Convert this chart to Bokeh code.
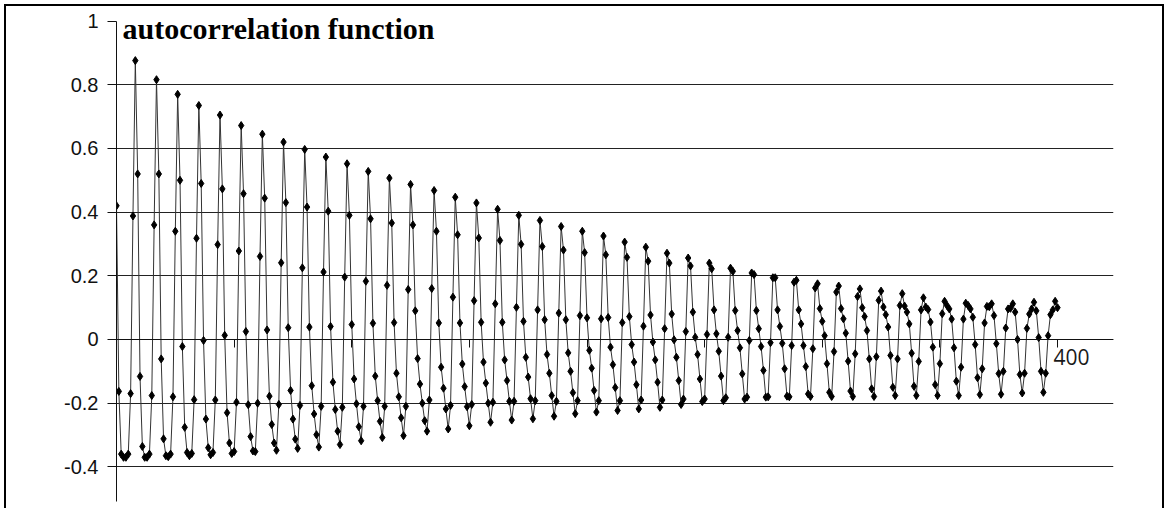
from bokeh.plotting import figure
from bokeh.models import FixedTicker, Label, Range1d
from bokeh.embed import file_html
from bokeh.resources import INLINE

# autocorrelation values, lag 0 .. 400
acf_lag_000_099 = [
    0.42, -0.163, -0.36, -0.37, -0.37, -0.36, -0.17, 0.388,
    0.876, 0.52, -0.116, -0.336, -0.37, -0.37, -0.36, -0.176, 0.36,
    0.816, 0.52, -0.061, -0.312, -0.365, -0.368, -0.36, -0.18, 0.34,
    0.77, 0.50, -0.022, -0.276, -0.355, -0.365, -0.358, -0.189, 0.318,
    0.735, 0.49, -0.003, -0.25, -0.34, -0.362, -0.355, -0.19, 0.298,
    0.705, 0.473, 0.013, -0.23, -0.325, -0.358, -0.352, -0.197, 0.278,
    0.672, 0.458, 0.025, -0.205, -0.305, -0.35, -0.352, -0.2, 0.261,
    0.645, 0.444, 0.03, -0.178, -0.267, -0.325, -0.348, -0.204, 0.241,
    0.62, 0.43, 0.037, -0.16, -0.25, -0.313, -0.342, -0.207, 0.225,
    0.597, 0.416, 0.039, -0.145, -0.234, -0.299, -0.338, -0.21, 0.212,
    0.573, 0.403, 0.041, -0.134, -0.22, -0.288, -0.33, -0.213, 0.196,
    0.552, 0.39,
]
acf_lag_100_199 = [
    0.047, -0.124, -0.202, -0.274, -0.318, -0.21, 0.183,
    0.528, 0.379, 0.051, -0.115, -0.192, -0.257, -0.308, -0.21, 0.17,
    0.507, 0.366, 0.053, -0.106, -0.18, -0.246, -0.302, -0.21, 0.157,
    0.487, 0.36, 0.09, -0.06, -0.14, -0.2, -0.255, -0.288, -0.19, 0.16,
    0.468, 0.34, 0.052, -0.087, -0.153, -0.218, -0.281, -0.207, 0.133,
    0.447, 0.329, 0.052, -0.077, -0.148, -0.211, -0.271, -0.204, 0.122,
    0.429, 0.319, 0.054, -0.071, -0.137, -0.2, -0.26, -0.197, 0.112,
    0.409, 0.311, 0.054, -0.064, -0.129, -0.194, -0.253, -0.194, 0.101,
    0.39, 0.299, 0.057, -0.056, -0.118, -0.186, -0.249, -0.192, 0.093,
    0.374, 0.292, 0.062, -0.047, -0.106, -0.176, -0.241, -0.194, 0.083,
    0.355, 0.281, 0.062, -0.042, -0.1, -0.167, -0.233, -0.192, 0.075,
    0.34, 0.273,
]
acf_lag_200_299 = [
    0.068, -0.034, -0.09, -0.16, -0.228, -0.192, 0.065,
    0.325, 0.266, 0.069, -0.024, -0.079, -0.151, -0.223, -0.192, 0.053,
    0.306, 0.258, 0.072, -0.016, -0.071, -0.142, -0.218, -0.19, 0.042,
    0.29, 0.246, 0.077, -0.008, -0.064, -0.134, -0.213, -0.19, 0.034,
    0.271, 0.24, 0.08, -0.001, -0.056, -0.129, -0.204, -0.187, 0.025,
    0.256, 0.231, 0.086, 0.007, -0.047, -0.124, -0.195, -0.187, 0.016,
    0.24, 0.222, 0.093, 0.018, -0.037, -0.115, -0.192, -0.183, 0.007,
    0.224, 0.214, 0.091, 0.028, -0.026, -0.108, -0.187, -0.181, -0.003,
    0.209, 0.204, 0.091, 0.034, -0.022, -0.097, -0.181, -0.18, -0.01,
    0.194, 0.194, 0.093, 0.041, -0.012, -0.092, -0.178, -0.18, -0.019,
    0.18, 0.186, 0.093, 0.049, -0.019, -0.085, -0.171, -0.179, -0.029,
    0.162, 0.175, 0.097,
]
acf_lag_300_400 = [
    0.057, 0.012, -0.076, -0.166, -0.179, -0.038,
    0.149, 0.168, 0.097, 0.065, 0.02, -0.068, -0.162, -0.179, -0.045,
    0.135, 0.159, 0.1, 0.072, 0.028, -0.061, -0.155, -0.179, -0.054,
    0.123, 0.152, 0.102, 0.078, 0.039, -0.05, -0.15, -0.176, -0.061,
    0.107, 0.144, 0.105, 0.086, 0.049, -0.043, -0.147, -0.176, -0.069, 0.093,
    0.131, 0.102, 0.094, 0.055, -0.024, -0.142, -0.176, -0.076, 0.081,
    0.12, 0.107, 0.096, 0.064, -0.026, -0.131, -0.176, -0.087, 0.064,
    0.114, 0.107, 0.096, 0.07, -0.016, -0.12, -0.173, -0.092, 0.052,
    0.104, 0.103, 0.112, 0.075, -0.013, -0.107, -0.172, -0.1, 0.036,
    0.096, 0.098, 0.112, 0.086, 0.0, -0.11, -0.168, -0.106, 0.035,
    0.08, 0.096, 0.117, 0.09, 0.006, -0.1, -0.166, -0.106, 0.012,
    0.078, 0.093, 0.12, 0.10,
]

y_ticks = [1.0, 0.8, 0.6, 0.4, 0.2, 0.0, -0.2, -0.4]
y_tick_labels = ["1", "0.8", "0.6", "0.4", "0.2", "0", "-0.2", "-0.4"]
y_grid_values = [0.8, 0.6, 0.4, 0.2, 0.0, -0.2, -0.4]
x_ticks = [50, 100, 150, 200, 250, 300, 350, 400]
x_label_value = 400
x_label_text = "400"
title_text = "autocorrelation function"

acf = acf_lag_000_099 + acf_lag_100_199 + acf_lag_200_299 + acf_lag_300_400
lags = list(range(len(acf)))

p = figure(width=1156, height=514, output_backend="svg", toolbar_location=None,
           x_range=Range1d(0, 423.8), y_range=Range1d(-0.5685, 1.0302),
           min_border_left=110, min_border_right=49, min_border_top=5,
           min_border_bottom=0)
p.styles = {"margin-left": "6px", "margin-top": "6px",
            "box-shadow": "-2px -2px 0 0 #000, 2px -2px 0 0 #000"}
p.outline_line_color = None
p.background_fill_color = "white"
p.border_fill_color = "white"

xa = p.xaxis[0]
xa.fixed_location = 0
xa.ticker = FixedTicker(ticks=x_ticks)
xa.major_label_overrides = {t: "" for t in x_ticks}
xa.major_tick_in = 0
xa.major_tick_out = 8
xa.minor_tick_in = 0
xa.minor_tick_out = 0
xa.axis_line_color = "#111111"
xa.major_tick_line_color = "#111111"

ya = p.yaxis[0]
ya.bounds = (-0.51, 1.0)
ya.ticker = FixedTicker(ticks=y_ticks)
ya.major_label_overrides = {v: s for v, s in zip(y_ticks, y_tick_labels)}
ya.major_tick_in = 0
ya.major_tick_out = 9
ya.minor_tick_in = 0
ya.minor_tick_out = 0
ya.major_label_standoff = 9
ya.axis_line_color = "#111111"
ya.major_tick_line_color = "#111111"
ya.major_label_text_font = "Liberation Sans"
ya.major_label_text_font_size = "20px"
ya.major_label_text_color = "#111111"

p.xgrid.visible = False
p.ygrid.ticker = FixedTicker(ticks=y_grid_values)
p.ygrid.grid_line_color = "#222222"
p.ygrid.grid_line_width = 1

p.line(lags, acf, line_color="#333333", line_width=1)
p.scatter(lags, acf, marker="diamond", size=8, color="black")

p.add_layout(Label(x=2.6, y=0.978, text=title_text, text_font="Liberation Serif",
                   text_font_style="bold", text_font_size="30px",
                   text_color="black", text_baseline="alphabetic", text_align="left"))
p.add_layout(Label(x=x_label_value, y=0, x_offset=-4, y_offset=-10, text=x_label_text,
                   text_font="Open Sans", text_font_size="21px", text_color="#1a1a1a",
                   text_baseline="top", text_align="left"))

open("out.html", "w").write(file_html(p, INLINE))
